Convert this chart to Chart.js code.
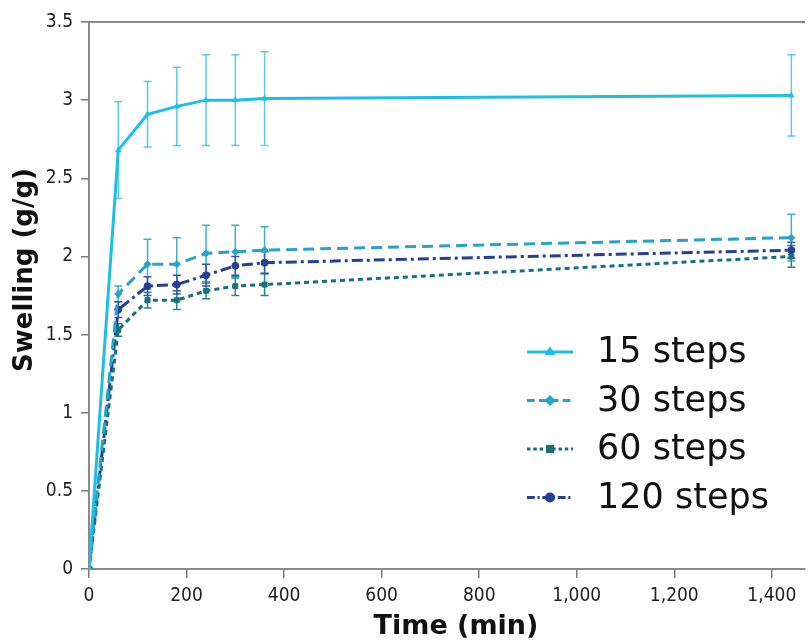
<!DOCTYPE html>
<html>
<head>
<meta charset="utf-8">
<script src="https://cdn.jsdelivr.net/npm/chart.js@4/dist/chart.umd.min.js"></script>
<style>
  html, body { margin: 0; padding: 0; background: #fff; }
  #wrap { width: 810px; height: 643px; }
</style>
</head>
<body>
<div id="wrap"><canvas id="myChart" width="810" height="643"></canvas></div>
<script>
// time points (min)
const times = [0, 60, 120, 180, 240, 300, 360, 1440];

// swelling (g/g) per number of steps
const s15  = [0, 2.68, 2.91, 2.96, 3.00, 3.00, 3.01, 3.03];
const s30  = [0, 1.76, 1.95, 1.95, 2.02, 2.03, 2.04, 2.12];
const s60  = [0, 1.53, 1.72, 1.72, 1.78, 1.81, 1.82, 2.00];
const s120 = [0, 1.66, 1.81, 1.82, 1.88, 1.94, 1.96, 2.04];

// standard deviations (error bars)
const e15  = [0, 0.31, 0.21, 0.25, 0.29, 0.29, 0.30, 0.26];
const e30  = [0, 0.05, 0.16, 0.17, 0.18, 0.17, 0.15, 0.15];
const e60  = [0, 0.04, 0.05, 0.06, 0.05, 0.06, 0.07, 0.07];
const e120 = [0, 0.05, 0.06, 0.06, 0.07, 0.06, 0.07, 0.05];

const xTicks = [0, 200, 400, 600, 800, 1000, 1200, 1400];

const series = [
  { label: "15 steps",  vals: s15,  err: e15,  color: "#1fbde9", errColor: "#5ccbe3", dash: [],           style: "triangle", r: 3 },
  { label: "30 steps",  vals: s30,  err: e30,  color: "#27a3c9", errColor: "#3fb0cf", dash: [11, 6],       style: "rectRot",  r: 3.5 },
  { label: "60 steps",  vals: s60,  err: e60,  color: "#17707f", errColor: "#2d8290", dash: [5, 4],        style: "rect",     r: 3.5 },
  { label: "120 steps", vals: s120, err: e120, color: "#263f96", errColor: "#3a55a6", dash: [11, 4, 3, 4], style: "circle",   r: 3.5 },
];

const errorBars = {
  id: "errorBars",
  beforeDatasetsDraw(chart) {
    const { ctx, scales: { x, y } } = chart;
    ctx.save();
    series.forEach((s) => {
      ctx.strokeStyle = s.errColor;
      ctx.lineWidth = 1.5;
      ctx.setLineDash([]);
      times.forEach((t, i) => {
        if (!s.err[i]) return;
        const px = x.getPixelForValue(t);
        const top = y.getPixelForValue(s.vals[i] + s.err[i]);
        const bot = y.getPixelForValue(s.vals[i] - s.err[i]);
        ctx.beginPath();
        ctx.moveTo(px, top); ctx.lineTo(px, bot);
        ctx.moveTo(px - 4, top); ctx.lineTo(px + 4, top);
        ctx.moveTo(px - 4, bot); ctx.lineTo(px + 4, bot);
        ctx.stroke();
      });
    });
    ctx.restore();
  },
};

const frameAndLegend = {
  id: "frameAndLegend",
  afterDraw(chart) {
    const { ctx, chartArea: { top, left, right } } = chart;
    ctx.save();
    // top frame line
    ctx.strokeStyle = "#8a8a8a";
    ctx.lineWidth = 2;
    ctx.beginPath();
    ctx.moveTo(left, top); ctx.lineTo(right, top);
    ctx.stroke();

    // axis titles
    ctx.fillStyle = "#111";
    ctx.textAlign = "center";
    ctx.textBaseline = "middle";
    ctx.font = "bold 27px 'DejaVu Sans', Verdana, sans-serif";
    ctx.fillText("Time (min)", 456, 627);
    ctx.save();
    ctx.translate(25, 270);
    ctx.rotate(-Math.PI / 2);
    ctx.font = "bold 26px 'DejaVu Sans', Verdana, sans-serif";
    ctx.fillText("Swelling (g/g)", 0, 0);
    ctx.restore();

    // legend
    const lx = 527, lw = 46, tx = 597;
    let ly = 352;
    ctx.textAlign = "left";
    ctx.font = "35px 'DejaVu Sans', Verdana, sans-serif";
    series.forEach((s) => {
      ctx.strokeStyle = s.color;
      ctx.lineWidth = 3;
      ctx.setLineDash(s.dash.length ? s.dash.map((d) => d * 0.7) : []);
      ctx.beginPath();
      ctx.moveTo(lx, ly); ctx.lineTo(lx + lw, ly);
      ctx.stroke();
      ctx.setLineDash([]);
      ctx.fillStyle = s.color;
      ctx.strokeStyle = s.color;
      Chart.helpers.drawPoint(ctx, { pointStyle: s.style, radius: s.r, borderWidth: 1 }, lx + lw / 2, ly);
      ctx.fillStyle = "#111";
      ctx.fillText(s.label, tx, ly + 1);
      ly += 48.5;
    });
    ctx.restore();
  },
};

const ctx = document.getElementById("myChart");

new Chart(ctx, {
  type: "line",
  data: {
    datasets: series.map((s) => ({
      label: s.label,
      data: times.map((t, i) => ({ x: t, y: s.vals[i] })),
      borderColor: s.color,
      backgroundColor: s.color,
      borderWidth: 3,
      borderDash: s.dash,
      pointStyle: s.style,
      pointRadius: s.r,
      pointBorderWidth: 1,
      tension: 0,
    })),
  },
  options: {
    responsive: false,
    animation: false,
    layout: { padding: { top: 22, left: 0, right: 0, bottom: 0 } },
    plugins: {
      legend: { display: false },
      tooltip: { enabled: false },
    },
    scales: {
      x: {
        type: "linear",
        min: 0,
        max: 1468,
        afterBuildTicks: (scale) => { scale.ticks = xTicks.map((v) => ({ value: v })); },
        afterFit: (scale) => { scale.height = 74; },
        grid: { display: true, drawOnChartArea: false, tickLength: 9, color: "#7a7a7a", lineWidth: 1.5 },
        border: { color: "#8a8a8a", width: 2 },
        ticks: {
          color: "#222",
          padding: 7,
          maxRotation: 0,
          font: { family: "'DejaVu Sans Condensed', 'DejaVu Sans', sans-serif", size: 19 },
          callback: (v) => v.toLocaleString("en-US"),
        },
      },
      y: {
        min: 0,
        max: 3.5,
        afterFit: (scale) => { scale.width = 89; },
        grid: { display: true, drawOnChartArea: false, tickLength: 8, color: "#7a7a7a", lineWidth: 1.5 },
        border: { color: "#8a8a8a", width: 2 },
        ticks: {
          stepSize: 0.5,
          color: "#222",
          padding: 8,
          font: { family: "'DejaVu Sans Condensed', 'DejaVu Sans', sans-serif", size: 19 },
          callback: (v) => String(Math.round(v * 10) / 10),
        },
      },
    },
  },
  plugins: [errorBars, frameAndLegend],
});
</script>
</body>
</html>
